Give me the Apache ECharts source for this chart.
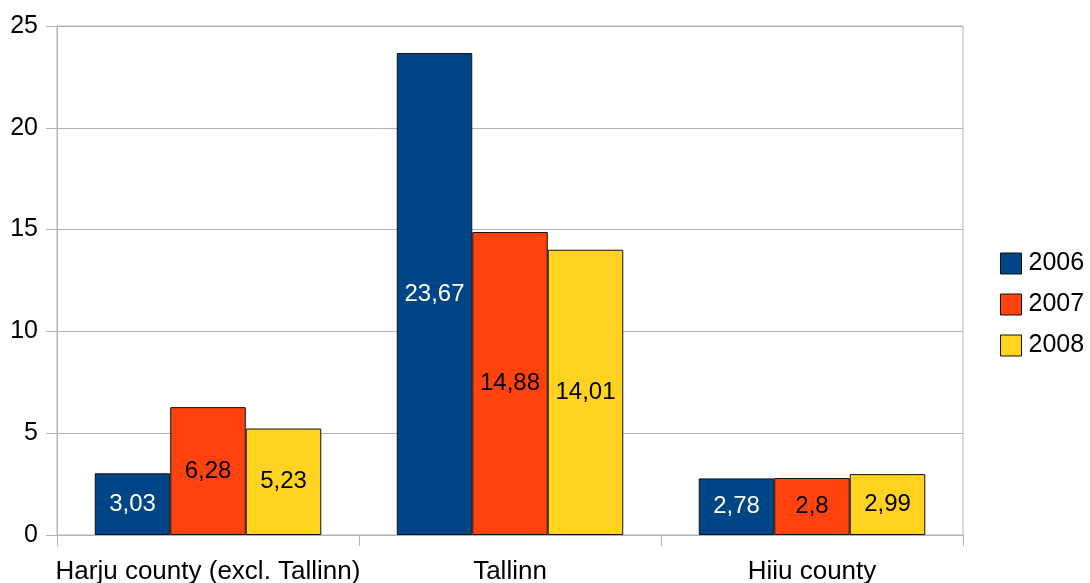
<!DOCTYPE html>
<html>
<head>
<meta charset="utf-8">
<style>
  html, body { margin: 0; padding: 0; background: #ffffff; }
  #chart { width: 1090px; height: 583px; }
</style>
<script src="https://cdn.jsdelivr.net/npm/echarts@6/dist/echarts.min.js"></script>
</head>
<body>
<div id="chart"></div>
<script>
// Regions on the category axis
const categories = ['Harju county (excl. Tallinn)', 'Tallinn', 'Hiiu county'];

// Values per year
const years = ['2006', '2007', '2008'];
const values2006 = [3.03, 23.67, 2.78];
const values2007 = [6.28, 14.88, 2.8];
const values2008 = [5.23, 14.01, 2.99];

const yearColors = ['#004586', '#ff420e', '#ffd320'];
const labelColors = ['#ffffff', '#000000', '#000000'];
const seriesValues = [values2006, values2007, values2008];

const FONT = '"Liberation Sans", Arial, sans-serif';
const GRID_GRAY = '#b3b3b3';

const chart = echarts.init(document.getElementById('chart'), null, { renderer: 'canvas' });

const series = years.map((year, i) => ({
  name: year,
  type: 'bar',
  data: seriesValues[i],
  barGap: '0%',
  barCategoryGap: '25%',
  itemStyle: {
    color: yearColors[i],
    borderColor: '#111111',
    borderWidth: 1
  },
  label: {
    show: true,
    position: 'inside',
    color: labelColors[i],
    fontFamily: FONT,
    fontSize: 24,
    formatter: p => String(p.value).replace('.', ',')
  },
  emphasis: { disabled: true }
}));

chart.setOption({
  animation: false,
  backgroundColor: '#ffffff',
  grid: {
    left: 57,
    right: 127,
    top: 26,
    bottom: 48,
    outerBoundsMode: 'none',
    containLabel: false,
    show: true,
    borderColor: GRID_GRAY,
    borderWidth: 1
  },
  legend: {
    orient: 'vertical',
    left: 1000,
    top: 251,
    padding: 0,
    itemWidth: 21,
    itemHeight: 21,
    itemGap: 16,
    icon: 'rect',
    textStyle: { fontFamily: FONT, fontSize: 25, lineHeight: 21, color: '#000000', padding: [2, 0, 0, 2] },
    itemStyle: { borderColor: '#111111', borderWidth: 1 },
    data: years
  },
  xAxis: {
    type: 'category',
    data: categories,
    axisLine: { lineStyle: { color: GRID_GRAY, width: 1 } },
    axisTick: { show: true, length: 11, lineStyle: { color: GRID_GRAY } },
    axisLabel: {
      interval: 0,
      hideOverlap: false,
      fontFamily: FONT,
      fontSize: 26,
      color: '#000000',
      margin: 24
    }
  },
  yAxis: {
    type: 'value',
    min: 0,
    max: 25,
    interval: 5,
    axisLine: { show: true, lineStyle: { color: GRID_GRAY, width: 1 } },
    axisTick: { show: true, length: 11, lineStyle: { color: GRID_GRAY } },
    axisLabel: { fontFamily: FONT, fontSize: 25, color: '#000000', margin: 19 },
    splitLine: { show: true, lineStyle: { color: GRID_GRAY, width: 1 } }
  },
  series: series
});
</script>
</body>
</html>
